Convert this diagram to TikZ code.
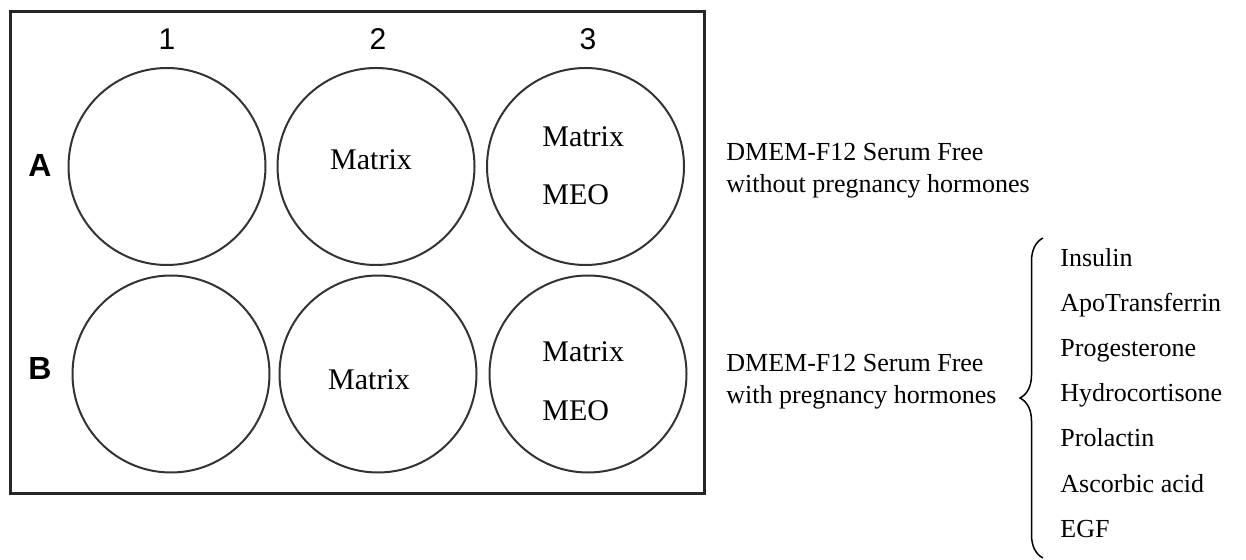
\documentclass[tikz,border=0pt]{standalone}
\usepackage{fontspec}
\setmainfont{Liberation Serif}
\newfontfamily\platefont{Liberation Sans}
\usetikzlibrary{decorations.pathreplacing,
	positioning}

\tikzset{
	well/.style={circle, draw=black!80, line width=1pt, minimum size=98.5pt, inner sep=0pt},
	welltext/.style={font=\fontsize{15}{18}\selectfont, inner sep=0pt, anchor=base west},
	platelabel/.style={font=\platefont\fontsize{15}{18}\selectfont, inner sep=0pt},
	medium/.style={font=\fontsize{13}{16}\selectfont, inner sep=0pt, align=left, anchor=base west},
	hormone/.style={font=\fontsize{13}{16}\selectfont, inner sep=0pt, anchor=base west}
}

\begin{document}
\begin{tikzpicture}[x=0.5pt, y=-0.5pt]
	\useasboundingbox (0,0) rectangle (1246,560);
	% plate
	\draw[line width=1.5pt, black!85] (10,12) rectangle (704,493);
	\node[platelabel] (c1) at (167,39) {1};
	\node[platelabel] (c2) at (378,39) {2};
	\node[platelabel] (c3) at (588,39) {3};
	\node[platelabel, font=\platefont\bfseries\fontsize{16}{18}\selectfont] (rA) at (40,165) {A};
	\node[platelabel, font=\platefont\bfseries\fontsize{16}{18}\selectfont] (rB) at (40,368) {B};
	% wells
	\node[well] (A1) at (167,166.5) {};
	\node[well] (A2) at (376,166.5) {};
	\node[well] (A3) at (585.5,166.5) {};
	\node[well] (B1) at (171,374) {};
	\node[well] (B2) at (378,374) {};
	\node[well] (B3) at (588,374) {};
	\node[welltext, anchor=base] (mA2) at (371,170) {Matrix};
	\node[welltext] (mA3) at (542,147) {Matrix};
	\node[welltext] (eA3) at (542,205) {MEO};
	\node[welltext, anchor=base] (mB2) at (369,390) {Matrix};
	\node[welltext] (mB3) at (542,362) {Matrix};
	\node[welltext] (eB3) at (542,421) {MEO};
	% media (base = last line)
	\node[medium] (without) at (726,193) {DMEM-F12 Serum Free\\without pregnancy hormones};
	\node[medium] (with) at (726,404) {DMEM-F12 Serum Free\\with pregnancy hormones};
	% hormones
	\node[hormone] (ins) at (1060,267) {Insulin};
	\node[hormone] (apo) at (1060,312) {ApoTransferrin};
	\node[hormone] (prog) at (1060,357) {Progesterone};
	\node[hormone] (hydro) at (1060,402) {Hydrocortisone};
	\node[hormone] (prol) at (1060,447) {Prolactin};
	\node[hormone] (asc) at (1060,492) {Ascorbic acid};
	\node[hormone] (egf) at (1060,537) {EGF};
	\coordinate (bt) at (1043,238);
	\coordinate (bb) at (1043,558);
	\draw[decorate, decoration={brace, amplitude=11.5pt}, line width=0.75pt] (bb) -- (bt);
\end{tikzpicture}
\end{document}
